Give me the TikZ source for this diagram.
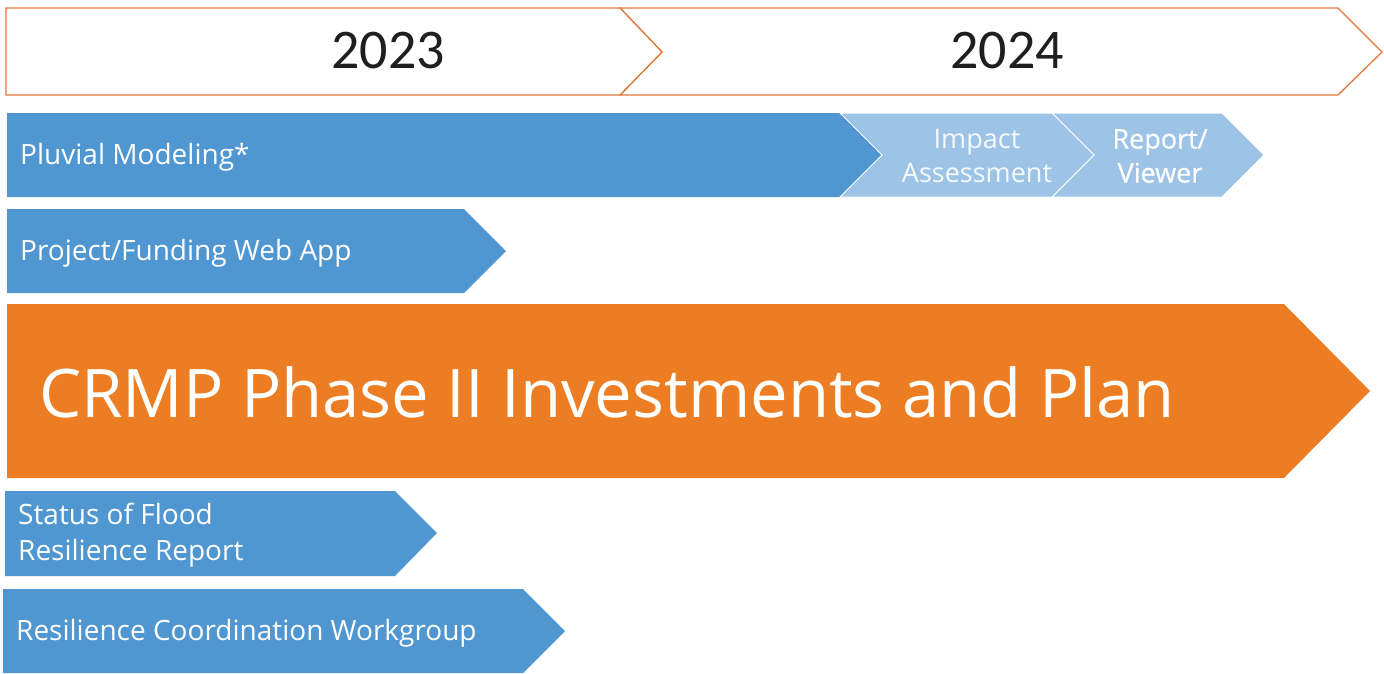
\documentclass[tikz,border=0pt]{standalone}
\usepackage{fontspec}
\setmainfont{Open Sans}
\newfontfamily\yearfont{Carlito}
\newfontfamily\semifont[FakeBold=0.5]{Open Sans}
\definecolor{barblue}{HTML}{5096D0}
\definecolor{lightblue}{HTML}{9DC3E6}
\definecolor{orangebar}{HTML}{ED7D22}
\definecolor{orangeline}{HTML}{E0783A}
\definecolor{yeartext}{HTML}{1F1F1F}
\begin{document}
\begin{tikzpicture}[x=1pt,y=-1pt,
  yearbox/.style={draw=orangeline,line width=1.3pt,fill=white,line join=miter},
  bluebar/.style={fill=barblue,draw=none},
  lightbar/.style={fill=lightblue,draw=white,line width=1pt},
  orangebox/.style={fill=orangebar,draw=none},
  yearlabel/.style={font=\yearfont\fontsize{56}{60}\selectfont,text=yeartext,inner sep=0pt},
  barlabel/.style={font=\fontsize{28}{36}\selectfont,text=white,anchor=west,inner sep=0pt,align=left},
  lightlabel/.style={font=\fontsize{27}{34}\selectfont,text=white,inner sep=0pt,align=center}]
\useasboundingbox (0,0) rectangle (1384,673);
% year chevrons
\draw[yearbox] (620,8) -- (1338,8) -- (1382,52) -- (1338,95) -- (620,95) -- (662,52) -- cycle;
\draw[yearbox] (6,8) -- (620,8) -- (662,52) -- (620,95) -- (6,95) -- cycle;
\node[yearlabel] (y2023) at (388,51) {2023};
\node[yearlabel] (y2024) at (1007,51) {2024};
% row 2
\fill[bluebar] (7,113) -- (840,113) -- (882,155) -- (840,197) -- (7,197) -- cycle;
\draw[lightbar] (1052,113) -- (1222,113) -- (1264,155) -- (1222,197) -- (1052,197) -- (1094,155) -- cycle;
\draw[lightbar] (840,113) -- (1052,113) -- (1094,155) -- (1052,197) -- (840,197) -- (882,155) -- cycle;
\node[barlabel] (pluvial) at (20,157) {Pluvial Modeling*};
\node[lightlabel,text opacity=0.9] (impact) at (977,156) {Impact\\Assessment};
\node[lightlabel,font=\semifont\fontsize{27}{34}\selectfont] (report) at (1160,156) {Report/\\Viewer};
% row 3
\fill[bluebar] (7,209) -- (464,209) -- (506,251) -- (464,293) -- (7,293) -- cycle;
\node[barlabel] (webapp) at (20,253) {Project/Funding Web App};
% orange
\fill[orangebox] (7,304) -- (1284,304) -- (1370,391) -- (1284,478) -- (7,478) -- cycle;
\node[font=\fontsize{67}{70}\selectfont,text=white,anchor=west,inner sep=0pt] (crmp) at (39,392) {CRMP Phase II Investments and Plan};
% row 5
\fill[bluebar] (5,491) -- (395,491) -- (437,533) -- (395,576) -- (5,576) -- cycle;
\node[barlabel] (status) at (18,535) {Status of Flood\\Resilience Report};
% row 6
\fill[bluebar] (3,589) -- (523,589) -- (565,631) -- (523,673) -- (3,673) -- cycle;
\node[barlabel] (rcw) at (16,633) {Resilience Coordination Workgroup};
\end{tikzpicture}
\end{document}
